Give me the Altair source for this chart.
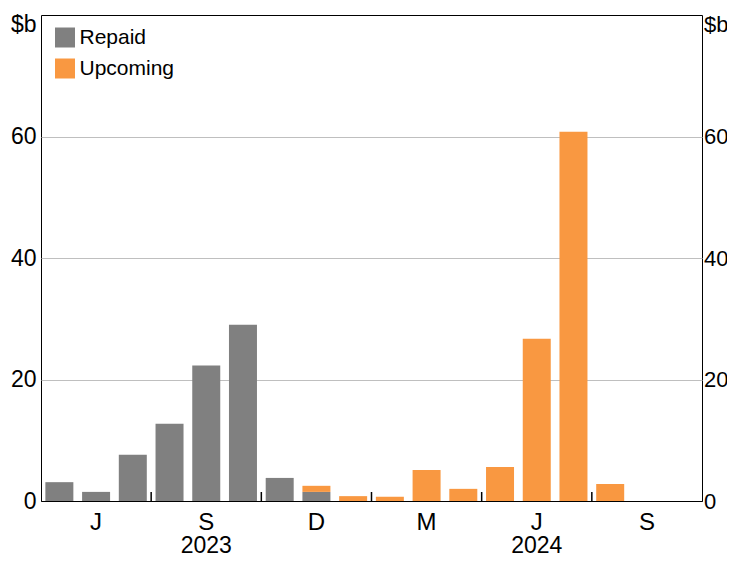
import altair as alt
import pandas as pd

# ---- data ----
months = ["2023-04", "2023-05", "2023-06", "2023-07", "2023-08", "2023-09",
          "2023-10", "2023-11", "2023-12", "2024-01", "2024-02", "2024-03",
          "2024-04", "2024-05", "2024-06", "2024-07", "2024-08", "2024-09"]
repaid = [3.1, 1.5, 7.6, 12.7, 22.3, 29.0, 3.8, 1.5, 0, 0, 0, 0, 0, 0, 0, 0, 0, 0]
upcoming = [0, 0, 0, 0, 0, 0, 0, 1.0, 0.8, 0.7, 5.1, 2.0, 5.6, 26.7, 60.8, 2.8, 0, 0]

series = ["Repaid", "Upcoming"]
colors = ["#808080", "#F99841"]

quarter_months = ["2023-05", "2023-08", "2023-11", "2024-02", "2024-05", "2024-08"]
quarter_labels = ["J", "S", "D", "M", "J", "S"]
year_months = ["2023-08", "2024-05"]
year_labels = ["2023", "2024"]
tick_months = ["2023-07", "2023-10", "2024-01", "2024-04", "2024-07"]
y_ticks = [0, 20, 40, 60]

FONT = "Liberation Sans"
W, H = 661, 486

rows = []
for i, m in enumerate(months):
    rows.append({"month": m, "series": "Repaid", "value": repaid[i], "order": 0})
    rows.append({"month": m, "series": "Upcoming", "value": upcoming[i], "order": 1})
df = pd.DataFrame(rows)

xscale = alt.Scale(domain=months, paddingInner=0, paddingOuter=0)
yscale = alt.Scale(domain=[0, 80], nice=False)

bars = alt.Chart(df).mark_bar(width=28).encode(
    x=alt.X("month:O", scale=xscale, axis=None),
    y=alt.Y("value:Q", stack="zero", scale=yscale,
            axis=alt.Axis(values=y_ticks, orient="left", grid=True,
                          gridColor=alt.condition("datum.value == 0", alt.value("black"), alt.value("#BFBFBF")),
                          gridWidth=1, ticks=False, domain=False,
                          labelFontSize=23, labelFont=FONT, labelColor="black", labelPadding=5,
                          title="$b", titleAngle=0, titleFontSize=23, titleFont=FONT,
                          titleFontWeight="normal", titleColor="black",
                          titleAlign="right", titleBaseline="middle", titleX=-5, titleY=9)),
    color=alt.Color("series:N", scale=alt.Scale(domain=series, range=colors),
                    legend=alt.Legend(title=None, orient="none", legendX=13.5, legendY=12,
                                      symbolType="square", symbolSize=400, symbolStrokeWidth=0,
                                      symbolOpacity=1,
                                      labelFontSize=21, labelFont=FONT, labelColor="black",
                                      labelOffset=4, rowPadding=9, padding=0)),
    order=alt.Order("order:Q"),
)

right_axis = alt.Chart(df).mark_point(opacity=0).encode(
    x=alt.X("month:O", scale=xscale, axis=None),
    y=alt.Y("value:Q", scale=yscale,
            axis=alt.Axis(values=y_ticks, orient="right", grid=False, ticks=False, domain=False,
                          labelFontSize=22, labelFont=FONT, labelColor="black", labelPadding=1.5,
                          title="$b", titleAngle=0, titleFontSize=22, titleFont=FONT,
                          titleFontWeight="normal", titleColor="black",
                          titleAlign="left", titleBaseline="middle", titleX=1.5, titleY=9)),
)

qdf = pd.DataFrame({"month": quarter_months, "label": quarter_labels})
qtext = alt.Chart(qdf).mark_text(fontSize=24, font=FONT, color="black", baseline="middle").encode(
    x=alt.X("month:O", scale=xscale, axis=None),
    y=alt.value(H + 22),
    text="label:N",
)

ydf = pd.DataFrame({"month": year_months, "label": year_labels})
ytext = alt.Chart(ydf).mark_text(fontSize=23, font=FONT, color="black", baseline="middle").encode(
    x=alt.X("month:O", scale=xscale, axis=None),
    y=alt.value(H + 45),
    text="label:N",
)

tdf = pd.DataFrame({"month": tick_months})
ticks = alt.Chart(tdf).mark_rule(color="black", strokeWidth=1.5).encode(
    x=alt.X("month:O", scale=xscale, axis=None, bandPosition=0),
    y=alt.value(H),
    y2=alt.value(H - 9),
)

chart = alt.layer(bars, ticks, qtext, ytext, right_axis).resolve_scale(
    y="independent"
).properties(
    width=W, height=H,
    background="white",
    title=alt.TitleParams("Term Funding Facility Maturities", fontSize=34, fontWeight="bold",
                          font=FONT, color="black", anchor="middle", baseline="alphabetic",
                          offset=9.5),
    autosize=alt.AutoSizeParams(type="none"),
    padding={"left": 33, "top": 7, "right": 25, "bottom": 56},
).configure_view(stroke="black", strokeWidth=1)

chart.save("out.html", embed_options={"renderer": "svg", "actions": False})
